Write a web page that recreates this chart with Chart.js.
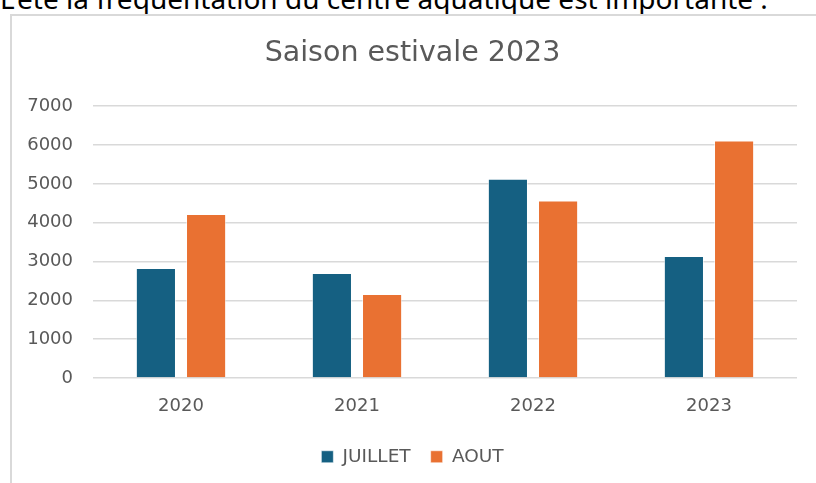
<!DOCTYPE html>
<html>
<head>
<meta charset="utf-8">
<script src="https://cdn.jsdelivr.net/npm/chart.js@4"></script>
<style>
  html, body { margin: 0; padding: 0; background: #fff; }
  body { width: 816px; height: 483px; overflow: hidden; position: relative; }
  #intro {
    position: absolute; left: 0; top: -16px; white-space: nowrap;
    font-family: "Noto Sans", sans-serif; font-size: 28px; line-height: 28px; color: #000;
  }
  #frame {
    position: absolute; left: 10px; top: 14px; width: 840px; height: 520px;
    border: 2px solid #d9d9d9; box-sizing: border-box;
  }
  #wrap { position: absolute; left: 10px; top: 14px; width: 816px; height: 462px; }
</style>
</head>
<body>
<div id="intro">L'été la fréquentation du centre aquatique est importante :</div>
<div id="frame"></div>
<div id="wrap"><canvas id="saisonChart"></canvas></div>
<script>
var years = ["2020", "2021", "2022", "2023"];
var juillet = [2830, 2700, 5130, 3140];
var aout = [4220, 2160, 4570, 6115];
var yTicks = [0, 1000, 2000, 3000, 4000, 5000, 6000, 7000];

var grey = "#595959";
var face = "DejaVu Sans";

new Chart("saisonChart", {
    type: "bar",
    data: {
        labels: years,
        datasets: [{
            label: "JUILLET",
            data: juillet,
            backgroundColor: "#156082",
            borderColor: "rgba(255,255,255,0.55)",
            borderWidth: 1,
            categoryPercentage: 0.57,
            barPercentage: 0.8
        }, {
            label: "AOUT",
            data: aout,
            backgroundColor: "#e97132",
            borderColor: "rgba(255,255,255,0.55)",
            borderWidth: 1,
            categoryPercentage: 0.57,
            barPercentage: 0.8
        }]
    },
    options: {
        responsive: true,
        maintainAspectRatio: false,
        animation: false,
        layout: {
            padding: { left: 18, right: 29, top: 0, bottom: 0 }
        },
        plugins: {
            title: {
                display: true,
                text: "Saison estivale 2023",
                color: grey,
                font: { family: face, size: 28.5, weight: "normal" },
                padding: { top: 22, bottom: 36 }
            },
            legend: {
                position: "bottom",
                labels: {
                    color: grey,
                    boxWidth: 12,
                    boxHeight: 12,
                    padding: 20,
                    font: { family: face, size: 18.5 }
                }
            },
            tooltip: { enabled: false }
        },
        scales: {
            x: {
                grid: { display: false },
                border: { display: false },
                ticks: {
                    color: grey,
                    padding: 10,
                    font: { family: face, size: 18 }
                }
            },
            y: {
                min: 0,
                max: 7000,
                afterBuildTicks: function (axis) {
                    axis.ticks = yTicks.map(function (v) { return { value: v }; });
                },
                afterFit: function (axis) {
                    axis.width = 65;
                },
                grid: { color: "#d9d9d9", lineWidth: 1.5, drawTicks: false },
                border: { display: false },
                ticks: {
                    color: grey,
                    padding: 20,
                    font: { family: face, size: 18 },
                    callback: function (v) { return String(v); }
                }
            }
        }
    }
});
</script>
</body>
</html>
